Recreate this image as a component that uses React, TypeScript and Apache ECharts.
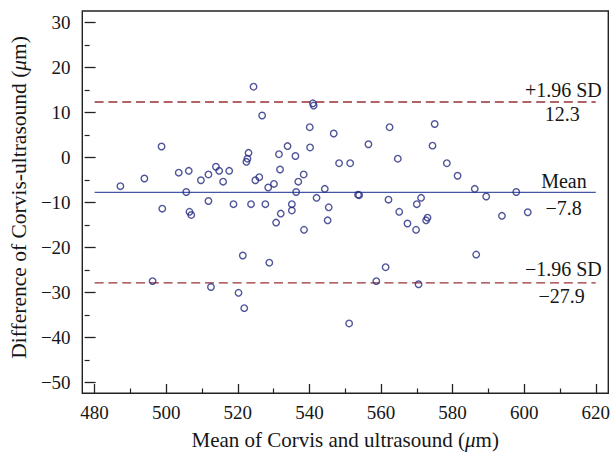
import React, { useEffect, useRef } from "react";
import * as echarts from "echarts";

// Mean of the two methods (x) and their difference (y)
const meanValues = [
  487.2, 493.9, 498.7, 498.9, 496.2, 503.5, 506.3, 505.6, 506.5, 507.0,
  509.7, 511.8, 513.9, 514.8, 511.8, 512.5, 515.9, 517.6, 518.8, 520.2,
  521.4, 521.8, 522.4, 522.7, 523.0, 523.7, 524.4, 524.9, 526.0, 526.8,
  527.7, 528.5, 528.8, 530.1, 530.7, 531.5, 531.8, 532.0, 533.9, 535.1,
  535.1, 536.1, 536.3, 536.9, 538.4, 538.5, 540.1, 540.2, 541.0, 541.2,
  542.0, 544.3, 545.4, 545.1, 546.8, 548.3, 551.4, 551.1, 553.6, 553.9,
  556.5, 558.7, 561.3, 562.1, 562.4, 564.7, 565.1, 567.4, 569.8, 570.0,
  570.5, 571.2, 572.6, 573.0, 574.4, 575.0, 578.4, 581.4, 586.2, 589.4,
  586.6, 593.8, 597.8, 601.0,
];
const diffValues = [
  -6.4, -4.7, 2.4, -11.4, -27.5, -3.4, -3.0, -7.7, -12.1, -12.8,
  -5.1, -3.8, -2.1, -3.0, -9.7, -28.8, -5.4, -3.0, -10.4, -30.1,
  -21.8, -33.5, -1.0, -0.3, 1.0, -10.4, 15.7, -5.1, -4.4, 9.3,
  -10.4, -6.7, -23.4, -5.9, -14.5, 0.7, -2.7, -12.5, 2.5, -10.4,
  -11.8, 0.3, -7.7, -5.4, -3.8, -16.1, 6.7, 2.2, 12.0, 11.5,
  -9.0, -7.0, -11.1, -14.0, 5.3, -1.3, -1.3, -36.9, -8.3, -8.4,
  2.9, -27.5, -24.4, -9.4, 6.7, -0.3, -12.1, -14.7, -16.1, -10.4,
  -28.2, -9.0, -14.0, -13.4, 2.6, 7.4, -1.3, -4.1, -7.0, -8.7,
  -21.6, -13.0, -7.7, -12.2,
];

const xRange = [480, 620];
const yRange = [-50, 30];
const lineSpan = [480, 620];
const limitValues = [12.3, -7.8, -27.9];
const limitNames = ["+1.96 SD", "Mean", "\u22121.96 SD"];
const limitNumbers = ["12.3", "\u22127.8", "\u221227.9"];

const SERIF = '"Liberation Serif", "DejaVu Serif", serif';
const TEXT = "#161616";
const AXIS = "#222222";

// layout (pixels)
const W = 613;
const H = 455;
const FRAME = { left: 82.3, top: 11, right: 608.3, bottom: 393.3 };
const PLOT = { left: 92.3, top: 22.3, right: 599.3, bottom: 382.7 };

// offsets of the annotation texts from the end of each line
const nameOffsets = [
  [6, -12],
  [-9, -11.5],
  [6, -14],
];
const numberOffsets = [
  [-16, 12],
  [-14, 15.5],
  [-11, 13.5],
];

export default function App() {
  const ref = useRef<HTMLDivElement>(null);

  useEffect(() => {
    const chart = echarts.init(ref.current!, null, { renderer: "svg" });
    const points = meanValues.map((m, i) => [m, diffValues[i]]);
    const limitColor = "#993036";
    const meanColor = "#4657a6";

    const option: any = {
      animation: false,
      backgroundColor: "#ffffff",
      grid: {
        left: PLOT.left,
        top: PLOT.top,
        right: W - PLOT.right,
        bottom: H - PLOT.bottom,
        containLabel: false,
      },
      xAxis: {
        type: "value",
        min: xRange[0],
        max: xRange[1],
        interval: 20,
        position: "bottom",
        offset: FRAME.bottom - PLOT.bottom,
        axisLine: { show: false, onZero: false },
        axisTick: { show: true, inside: true, length: 9, lineStyle: { color: AXIS, width: 1.3 } },
        minorTick: { show: true, splitNumber: 2, length: 4.5, lineStyle: { color: AXIS, width: 1.2 } },
        splitLine: { show: false },
        axisLabel: { fontFamily: SERIF, fontSize: 19, color: TEXT, margin: 10 },
        name: "{n|Mean of Corvis and ultrasound (}{i|\u03bc}{n|m)}",
        nameLocation: "middle",
        nameGap: 36,
        nameTextStyle: {
          rich: {
            n: { fontFamily: SERIF, fontSize: 21, color: TEXT },
            i: { fontFamily: SERIF, fontSize: 21, color: TEXT, fontStyle: "italic" },
          },
        },
      },
      yAxis: {
        type: "value",
        min: yRange[0],
        max: yRange[1],
        interval: 10,
        position: "left",
        offset: PLOT.left - FRAME.left,
        axisLine: { show: false, onZero: false },
        axisTick: { show: true, inside: true, length: 11, lineStyle: { color: AXIS, width: 1.3 } },
        minorTick: { show: true, splitNumber: 2, length: 5, lineStyle: { color: AXIS, width: 1.2 } },
        splitLine: { show: false },
        axisLabel: {
          fontFamily: SERIF,
          fontSize: 19,
          color: TEXT,
          margin: 14,
          formatter: (v: number) => String(v).replace("-", "\u2212"),
        },
        name: "{n|Difference of Corvis-ultrasound (}{i|\u03bc}{n|m)}",
        nameLocation: "middle",
        nameGap: 52,
        nameTextStyle: {
          padding: [0, 0, 0, 10],
          rich: {
            n: { fontFamily: SERIF, fontSize: 21.5, color: TEXT },
            i: { fontFamily: SERIF, fontSize: 21.5, color: TEXT, fontStyle: "italic" },
          },
        },
      },
      series: [
        {
          type: "line",
          silent: true,
          showSymbol: false,
          data: [
            [lineSpan[0], limitValues[0]],
            [lineSpan[1], limitValues[0]],
          ],
          lineStyle: { color: limitColor, width: 1.4, type: [9, 4.8] },
          z: 2,
        },
        {
          type: "line",
          silent: true,
          showSymbol: false,
          data: [
            [lineSpan[0], limitValues[1]],
            [lineSpan[1], limitValues[1]],
          ],
          lineStyle: { color: meanColor, width: 1.3 },
          z: 2,
        },
        {
          type: "line",
          silent: true,
          showSymbol: false,
          data: [
            [lineSpan[0], limitValues[2]],
            [lineSpan[1], limitValues[2]],
          ],
          lineStyle: { color: limitColor, width: 1.4, type: [9, 4.8] },
          z: 2,
        },
        {
          type: "scatter",
          silent: true,
          data: points,
          symbol: "circle",
          symbolSize: 6.5,
          itemStyle: { color: "rgba(255,255,255,0)", borderColor: "#242a80", borderWidth: 1.4 },
          z: 3,
        },
      ],
    };
    chart.setOption(option);

    const xEnd = chart.convertToPixel({ xAxisIndex: 0 }, lineSpan[1]) as number;
    const graphics: any[] = [
      {
        type: "rect",
        shape: {
          x: FRAME.left,
          y: FRAME.top,
          width: FRAME.right - FRAME.left,
          height: FRAME.bottom - FRAME.top,
        },
        style: { fill: "none", stroke: AXIS, lineWidth: 1.4 },
        silent: true,
        z: 10,
      },
    ];
    limitValues.forEach((v, i) => {
      const y = chart.convertToPixel({ yAxisIndex: 0 }, v) as number;
      graphics.push({
        type: "text",
        x: xEnd + nameOffsets[i][0],
        y: y + nameOffsets[i][1],
        silent: true,
        style: {
          text: limitNames[i],
          align: "right",
          verticalAlign: "middle",
          fontFamily: SERIF,
          fontSize: 20,
          fill: TEXT,
        },
        z: 11,
      });
      graphics.push({
        type: "text",
        x: xEnd + numberOffsets[i][0],
        y: y + numberOffsets[i][1],
        silent: true,
        style: {
          text: limitNumbers[i],
          align: "right",
          verticalAlign: "middle",
          fontFamily: SERIF,
          fontSize: 20,
          fill: TEXT,
        },
        z: 11,
      });
    });
    chart.setOption({ graphic: graphics });

    return () => chart.dispose();
  }, []);

  return (
    <div
      ref={ref}
      style={{ position: "fixed", left: 0, top: 0, width: W, height: H }}
    />
  );
}
